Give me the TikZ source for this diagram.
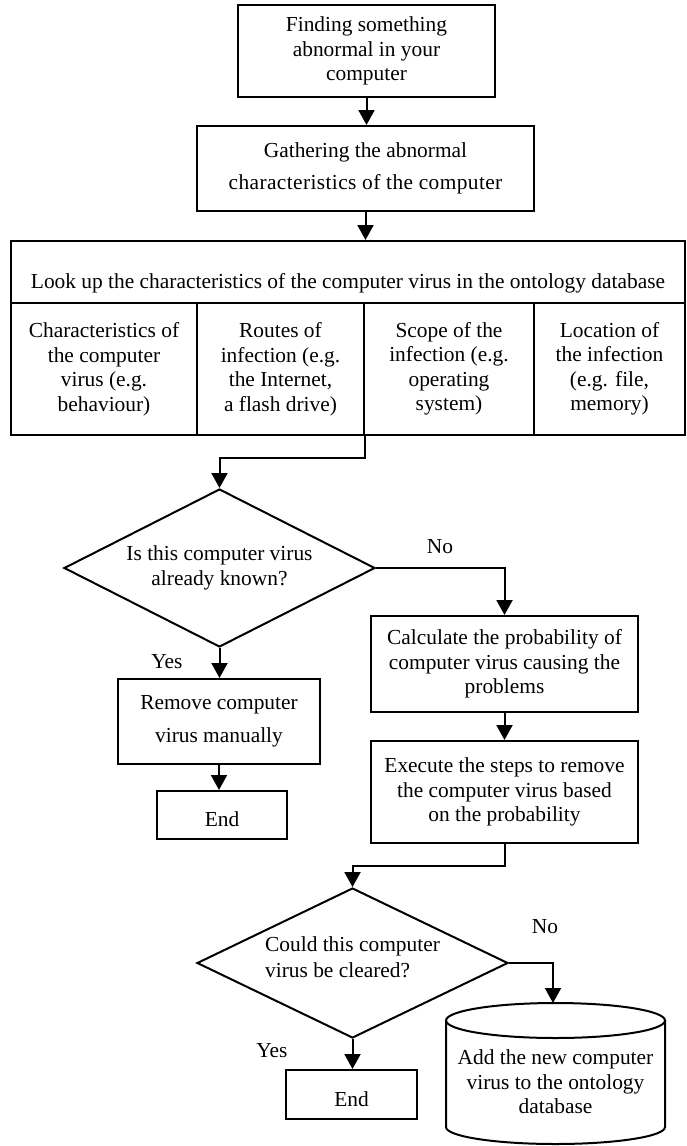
\documentclass[tikz,border=0pt]{standalone}
\usepackage{fontspec}
\setmainfont{Liberation Serif}
\usetikzlibrary{arrows.meta,shapes.geometric,calc}
\tikzset{
  base/.style={font=\fontsize{21.4}{24.5}\selectfont, line width=2pt, inner sep=0pt, align=center},
  procbox/.style={base, draw, rectangle},
  cellbox/.style={base, draw, rectangle, minimum height=132pt},
  decision/.style={base, draw, diamond, aspect=2},
  lbl/.style={font=\fontsize{21.4}{24.5}\selectfont, inner sep=0pt},
  flow/.style={line width=2pt, line join=miter, -{Triangle[length=15pt,width=16pt]}},
  plain/.style={line width=2pt},
  pushdown/.style={execute at begin node={\rule{0pt}{#1}}},
  pushup/.style={execute at end node={\rule[-#1]{0pt}{#1}}}
}
\begin{document}
\begin{tikzpicture}[x=1pt,y=1pt]
\useasboundingbox (0,0) rectangle (687,-1146);
% process boxes
\node[procbox, pushdown=27pt, minimum width=257pt, minimum height=92pt] (b1) at (366.5,-51) {Finding something\\abnormal in your\\computer};
\node[procbox, pushdown=27pt, minimum width=337pt, minimum height=85pt] (b2) at (365.5,-168.5) {Gathering the abnormal\\[7pt]{\addfontfeature{LetterSpace=1.8}characteristics of the computer}};
% table
\node[procbox, pushdown=37pt, minimum width=674pt, minimum height=62pt] (hdr) at (348,-272) {Look up the characteristics of the computer virus in the ontology database};
\node[cellbox, minimum width=186pt] (c1) at (104,-369) {Characteristics of\\the computer\\virus (e.g.\\behaviour)};
\node[cellbox, minimum width=167pt] (c2) at (280.5,-369) {Routes of\\infection (e.g.\\the Internet,\\a flash drive)};
\node[cellbox, minimum width=170pt] (c3) at (449,-369) {Scope of the\\infection (e.g.\\operating\\system)};
\node[cellbox, minimum width=151pt] (c4) at (609.5,-369) {Location of\\the infection\\(e.g. file,\\memory)};
% first decision
\node[decision, pushdown=21pt, minimum width=311pt, minimum height=158pt] (d1) at (219.5,-568) {Is this computer virus\\already known?};
\node[procbox, pushdown=19pt, minimum width=267pt, minimum height=96pt] (calc) at (504.5,-664) {Calculate the probability of\\computer virus causing the\\problems};
\node[procbox, pushdown=29pt, minimum width=202pt, minimum height=85pt] (rem) at (219,-721.5) {Remove computer\\[8pt]virus manually};
\node[procbox, pushdown=24pt, minimum width=130pt, minimum height=48pt] (end1) at (222,-815) {End};
\node[procbox, minimum width=267pt, minimum height=102pt] (exe) at (504.5,-792) {Execute the steps to remove\\the computer virus based\\on the probability};
% second decision
\node[decision, pushup=12pt, minimum width=311pt, minimum height=150pt, align=left] (d2) at (352.5,-963) {Could this computer\\[2pt]virus be cleared?};
\node[procbox, pushdown=24pt, minimum width=131pt, minimum height=49pt] (end2) at (351.5,-1094.5) {End};
% database cylinder
\draw[plain] (446,-1020) -- (446,-1127) arc[start angle=180,end angle=360,x radius=109.5,y radius=17] -- (665,-1020);
\draw[plain] (555.5,-1020.5) ellipse[x radius=109.5,y radius=17.5];
\coordinate (dbtop) at (553,-1003);
\node[base] (db) at (555.5,-1082) {Add the new computer\\virus to the ontology\\database};
% labels
\node[lbl] (no1) at (440,-547) {No};
\node[lbl] (yes1) at (167,-662) {Yes};
\node[lbl] (no2) at (545,-927) {No};
\node[lbl] (yes2) at (272,-1051) {Yes};
% connectors
\draw[flow] (b1.south) -- (b1.south |- b2.north);
\draw[flow] (b2.south) -- (b2.south |- hdr.north);
\draw[flow] (c2.south east) -- ++(0,-22) -| (d1.north);
\draw[flow] (d1.east) -| (calc.north);
\draw[flow] (d1.south) -- (d1.south |- rem.north);
\draw[flow] (rem.south) -- (rem.south |- end1.north);
\draw[flow] (calc.south) -- (exe.north);
\draw[flow] (exe.south) -- ++(0,-22) -| (d2.north);
\draw[flow] (d2.east) -| (dbtop);
\draw[flow] (d2.south) -- (d2.south |- end2.north);
\end{tikzpicture}
\end{document}
